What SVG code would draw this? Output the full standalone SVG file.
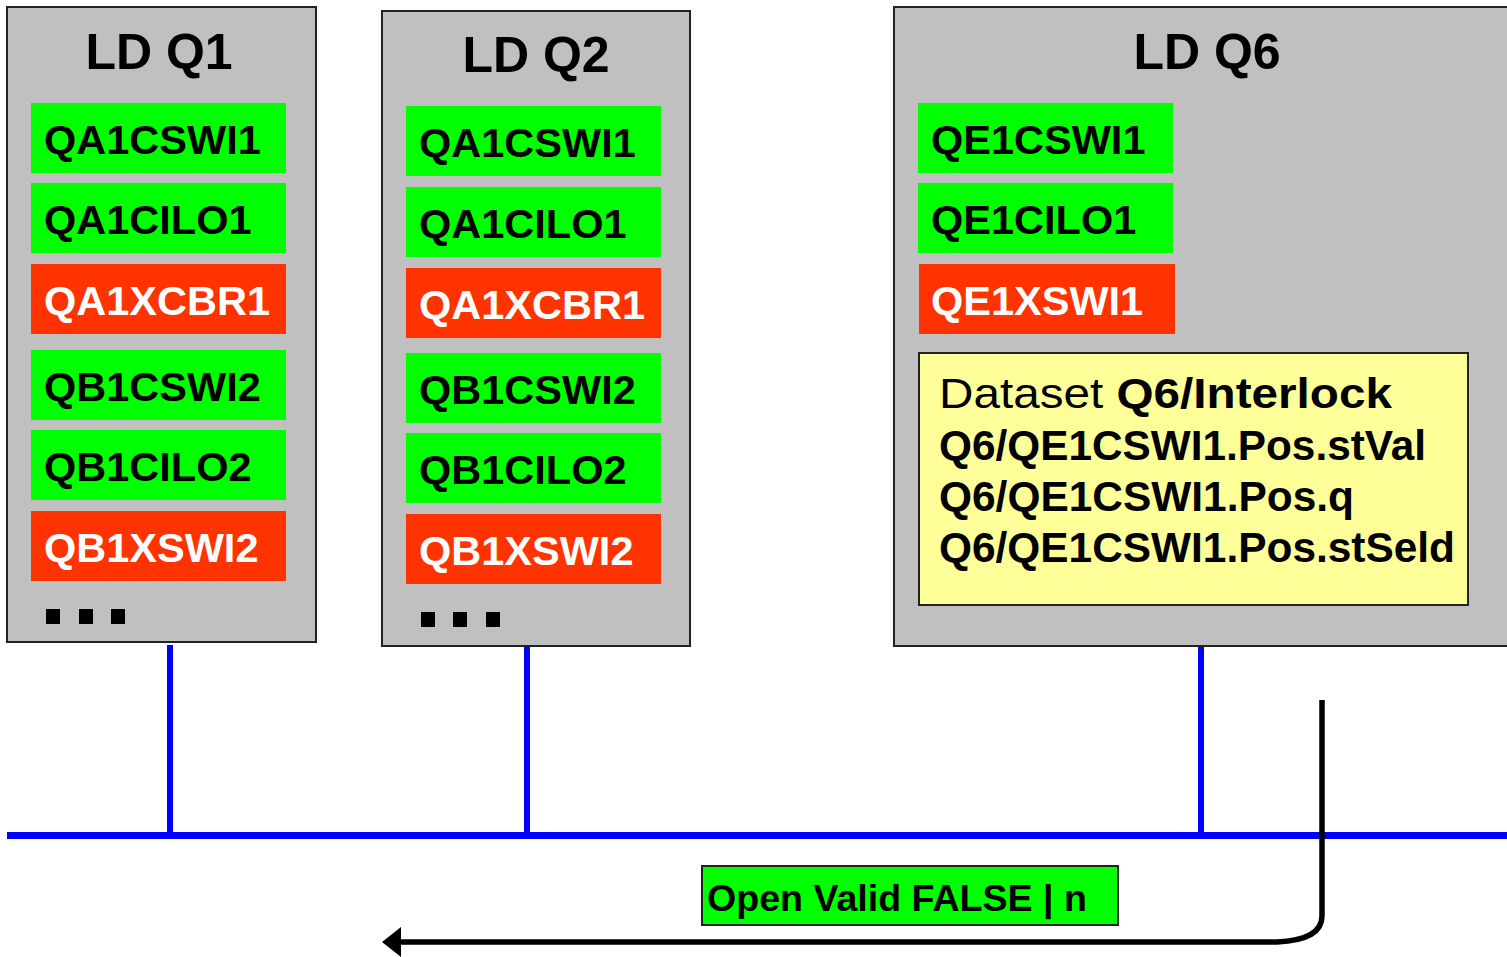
<svg xmlns="http://www.w3.org/2000/svg" width="1507" height="957" viewBox="0 0 1507 957">
<style>
.ld{fill:#C0C0C0;stroke:#222;stroke-width:2}
.title{font-family:"Liberation Sans",Arial,sans-serif;font-weight:bold;font-size:50px;fill:#000;text-anchor:middle}
.g{fill:#00FF00}
.r{fill:#FF3300}
.lt{font-family:"Liberation Sans",Arial,sans-serif;font-weight:bold;font-size:41.5px}
.bk{fill:#000}
.wh{fill:#fff}
.dot{fill:#000}
.bus{stroke:#0000FF;fill:none}
.ds{fill:#FFFF99;stroke:#222;stroke-width:2}
.dst{font-family:"Liberation Sans",Arial,sans-serif;font-size:42px;fill:#000;font-weight:bold}
</style>
<defs>
<marker id="ah" markerWidth="20" markerHeight="32" refX="0" refY="16" orient="auto" markerUnits="userSpaceOnUse">
<path d="M0,1 L19,16 L0,31 Z" fill="#000"/>
</marker>
</defs>

<g id="connectors">
<line class="bus" x1="7" y1="835.5" x2="1507" y2="835.5" stroke-width="7"/>
<line class="bus" x1="170" y1="645" x2="170" y2="835" stroke-width="6"/>
<line class="bus" x1="527" y1="647" x2="527" y2="835" stroke-width="6"/>
<line class="bus" x1="1201" y1="647" x2="1201" y2="835" stroke-width="6"/>
<path d="M1322,700 L1322,916 Q1322,940 1277,942 L401,942" fill="none" stroke="#000" stroke-width="5.5" marker-end="url(#ah)"/>
</g>

<g id="ldq1">
<rect class="ld" x="7" y="7" width="309" height="635"/>
<text class="title" x="159" y="69">LD Q1</text>
<rect class="g" x="31" y="103" width="255" height="70"/>
<text class="lt bk" x="44" y="154">QA1CSWI1</text>
<rect class="g" x="31" y="183" width="255" height="70"/>
<text class="lt bk" x="44" y="234">QA1CILO1</text>
<rect class="r" x="31" y="264" width="255" height="70"/>
<text class="lt wh" x="44" y="315">QA1XCBR1</text>
<rect class="g" x="31" y="350" width="255" height="70"/>
<text class="lt bk" x="44" y="401">QB1CSWI2</text>
<rect class="g" x="31" y="430" width="255" height="70"/>
<text class="lt bk" x="44" y="481">QB1CILO2</text>
<rect class="r" x="31" y="511" width="255" height="70"/>
<text class="lt wh" x="44" y="562">QB1XSWI2</text>
<rect class="dot" x="46" y="609" width="14" height="15"/>
<rect class="dot" x="79" y="609" width="14" height="15"/>
<rect class="dot" x="111" y="609" width="14" height="15"/>
</g>

<g id="ldq2">
<rect class="ld" x="382" y="11" width="308" height="635"/>
<text class="title" x="536" y="72">LD Q2</text>
<rect class="g" x="406" y="106" width="255" height="70"/>
<text class="lt bk" x="419" y="157">QA1CSWI1</text>
<rect class="g" x="406" y="187" width="255" height="70"/>
<text class="lt bk" x="419" y="238">QA1CILO1</text>
<rect class="r" x="406" y="268" width="255" height="70"/>
<text class="lt wh" x="419" y="319">QA1XCBR1</text>
<rect class="g" x="406" y="353" width="255" height="70"/>
<text class="lt bk" x="419" y="404">QB1CSWI2</text>
<rect class="g" x="406" y="433" width="255" height="70"/>
<text class="lt bk" x="419" y="484">QB1CILO2</text>
<rect class="r" x="406" y="514" width="255" height="70"/>
<text class="lt wh" x="419" y="565">QB1XSWI2</text>
<rect class="dot" x="421" y="612" width="14" height="15"/>
<rect class="dot" x="453" y="612" width="14" height="15"/>
<rect class="dot" x="486" y="612" width="14" height="15"/>
</g>

<g id="ldq6">
<rect class="ld" x="894" y="7" width="620" height="639"/>
<text class="title" x="1207" y="69">LD Q6</text>
<rect class="g" x="918" y="103" width="255" height="70"/>
<text class="lt bk" x="931" y="154">QE1CSWI1</text>
<rect class="g" x="918" y="183" width="255" height="70"/>
<text class="lt bk" x="931" y="234">QE1CILO1</text>
<rect class="r" x="919" y="264" width="256" height="70"/>
<text class="lt wh" x="931" y="315">QE1XSWI1</text>
</g>

<g id="dataset">
<rect class="ds" x="919" y="353" width="549" height="252"/>
<text class="dst" x="939" y="408" font-size="47" textLength="453" lengthAdjust="spacingAndGlyphs"><tspan font-weight="normal">Dataset </tspan>Q6/Interlock</text>
<text class="dst" x="939" y="460" textLength="487" lengthAdjust="spacingAndGlyphs">Q6/QE1CSWI1.Pos.stVal</text>
<text class="dst" x="939" y="511" textLength="415" lengthAdjust="spacingAndGlyphs">Q6/QE1CSWI1.Pos.q</text>
<text class="dst" x="939" y="562" textLength="516" lengthAdjust="spacingAndGlyphs">Q6/QE1CSWI1.Pos.stSeld</text>
</g>

<g id="label">
<rect x="702" y="866" width="416" height="59" fill="#00FF00" stroke="#222" stroke-width="2"/>
<text x="707" y="911" font-family="'Liberation Sans',Arial,sans-serif" font-weight="bold" font-size="37" fill="#000" textLength="380" lengthAdjust="spacingAndGlyphs">Open Valid FALSE | n</text>
</g>
</svg>
